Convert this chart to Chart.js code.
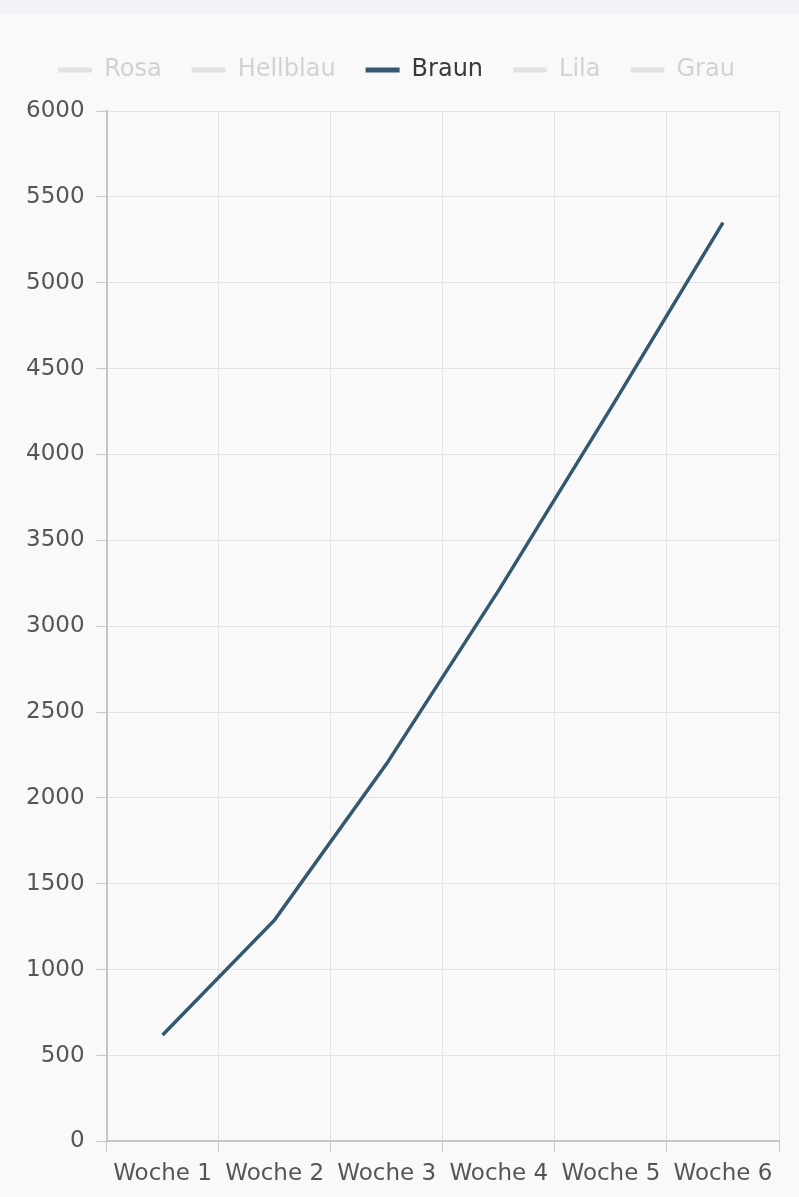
<!DOCTYPE html>
<html>
<head>
<meta charset="utf-8">
<script src="https://cdn.jsdelivr.net/npm/chart.js@4"></script>
<style>
  html, body { margin: 0; padding: 0; background: #f9f9f9; }
  #topbar { height: 14px; background: #f2f3f7; }
  #wrap { position: relative; width: 799px; height: 1183px; }
</style>
</head>
<body>
<div id="topbar"></div>
<div id="wrap"><canvas id="WeekChart"></canvas></div>
<script>
var Labels = ['Woche 1', 'Woche 2', 'Woche 3', 'Woche 4', 'Woche 5', 'Woche 6'];
var SeriesNames = ['Rosa', 'Hellblau', 'Braun', 'Lila', 'Grau'];
var Rosa = [0, 0, 0, 0, 0, 0];
var Hellblau = [0, 0, 0, 0, 0, 0];
var Braun = [620, 1290, 2200, 3210, 4270, 5350];
var Lila = [0, 0, 0, 0, 0, 0];
var Grau = [0, 0, 0, 0, 0, 0];
var Visible = [false, false, true, false, false];

var ChartFont = "'DejaVu Sans', sans-serif";
var LineColor = 'rgb(52, 88, 110)';
var OffColor = 'rgb(226, 226, 226)';

function MakeDataset(i, values) {
    return {
        label: SeriesNames[i],
        data: values,
        hidden: !Visible[i],
        borderColor: LineColor,
        backgroundColor: LineColor,
        borderWidth: 3.5,
        pointRadius: 0,
        tension: 0
    };
}

$ = function (id) { return document.getElementById(id); };

// a bit more room between the legend and the plot
var LegendGap = {
    id: 'legendGap',
    beforeInit: function (chart) {
        var fit = chart.legend.fit;
        chart.legend.fit = function () {
            fit.bind(chart.legend)();
            this.height += 19;
        };
    }
};

var myLineChart = new Chart($('WeekChart'), {
    type: 'line',
    data: {
        labels: Labels,
        datasets: [
            MakeDataset(0, Rosa),
            MakeDataset(1, Hellblau),
            MakeDataset(2, Braun),
            MakeDataset(3, Lila),
            MakeDataset(4, Grau)
        ]
    },
    plugins: [LegendGap],
    options: {
        responsive: true,
        maintainAspectRatio: false,
        animation: false,
        layout: { padding: { left: 14, right: 20, top: 14, bottom: 0 } },
        plugins: {
            tooltip: { enabled: false },
            legend: {
                labels: {
                    font: { family: ChartFont, size: 24 },
                    boxWidth: 34,
                    boxHeight: 5,
                    padding: 30,
                    // greyed-out items instead of the default strike-through
                    generateLabels: function (chart) {
                        return chart.data.datasets.map(function (ds, i) {
                            var on = chart.isDatasetVisible(i);
                            return {
                                text: ds.label,
                                fillStyle: on ? LineColor : OffColor,
                                strokeStyle: on ? LineColor : OffColor,
                                fontColor: on ? '#3a3a3e' : '#d2d2d4',
                                lineWidth: 0,
                                hidden: false,
                                datasetIndex: i
                            };
                        });
                    }
                }
            }
        },
        scales: {
            x: {
                offset: true,
                grid: { offset: true, color: '#e3e3e6', tickLength: 10, tickColor: '#c6c6ca' },
                border: { color: '#c6c6ca', width: 2 },
                ticks: { color: '#55555a', font: { family: ChartFont, size: 23 }, maxRotation: 0, autoSkip: false, padding: 9 }
            },
            y: {
                min: 0,
                max: 6000,
                grid: { color: '#e3e3e6', tickLength: 10, tickColor: '#c6c6ca' },
                border: { color: '#c6c6ca', width: 2 },
                ticks: {
                    stepSize: 500,
                    color: '#55555a',
                    font: { family: ChartFont, size: 23 },
                    padding: 12,
                    callback: function (value) { return String(value); }
                }
            }
        }
    }
});
</script>
</body>
</html>
